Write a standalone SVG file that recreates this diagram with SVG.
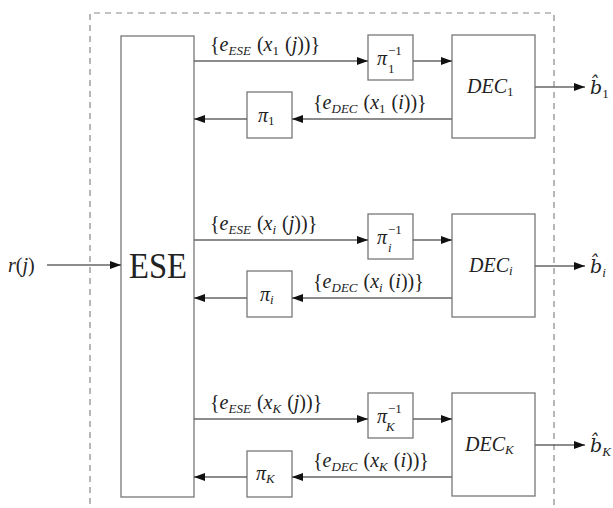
<svg xmlns="http://www.w3.org/2000/svg" width="613" height="508" viewBox="0 0 613 508">
<style>
.bx{fill:#fff;stroke:#777;stroke-width:1.3}
.ar{fill:none;stroke:#666;stroke-width:1.3;marker-end:url(#ah)}
.dash{fill:none;stroke:#888;stroke-width:1.2;stroke-dasharray:6 5}
text{font-family:"Liberation Serif","DejaVu Serif",serif;fill:#222}
.m{font-size:20px;font-style:italic}
.u{font-style:normal}
.sub{font-size:13px}
.big{font-size:35px;font-style:normal}
.bh{font-family:"DejaVu Serif",serif;font-size:19px;font-style:italic}
</style>
<defs>
<marker id="ah" markerWidth="11" markerHeight="8" refX="11" refY="4" orient="auto" markerUnits="userSpaceOnUse"><path d="M0,0 L11,4 L0,8 z" fill="#111"/></marker>
</defs>
<path class="dash" d="M90,515 V13 H554 V515"/>
<g id="ese"><rect class="bx" x="121" y="36" width="73" height="461"/><text class="big" x="158" y="278" text-anchor="middle" textLength="58" lengthAdjust="spacingAndGlyphs">ESE</text></g>
<g id="input"><text class="m" x="8" y="272">r<tspan class="u">(</tspan>j<tspan class="u">)</tspan></text></g>

<g id="pinv1"><rect class="bx" x="368" y="35" width="45" height="45"/><text class="m" x="377" y="65" font-size="19">π</text><text class="sub" x="388" y="55">−1</text><text class="sub" x="388" y="73">1</text></g>
<g id="dec1"><rect class="bx" x="452" y="35" width="83" height="103"/><text class="m" x="467" y="93" font-size="18">DEC<tspan class="sub u" dy="3">1</tspan></text></g>
<g id="pi1"><rect class="bx" x="247" y="92" width="45" height="46"/><text class="m" x="258" y="122" font-size="19">π<tspan class="sub u" dy="3">1</tspan></text></g>
<g id="b1"><text class="bh" x="590" y="94">b&#x302;<tspan class="sub" font-family="Liberation Serif" font-style="normal" dy="4">1</tspan></text></g>

<g id="pinvi"><rect class="bx" x="368" y="214" width="45" height="45"/><text class="m" x="377" y="244" font-size="19">π</text><text class="sub" x="388" y="234">−1</text><text class="m sub" x="388" y="252">i</text></g>
<g id="deci"><rect class="bx" x="452" y="214" width="83" height="103"/><text class="m" x="469" y="272" font-size="18">DEC<tspan class="sub" dy="3">i</tspan></text></g>
<g id="pii"><rect class="bx" x="247" y="271" width="45" height="46"/><text class="m" x="260" y="301" font-size="19">π<tspan class="sub" dy="3">i</tspan></text></g>
<g id="bi"><text class="bh" x="590" y="273">b&#x302;<tspan class="sub" font-family="Liberation Serif" dy="4">i</tspan></text></g>

<g id="pinvK"><rect class="bx" x="368" y="393" width="45" height="45"/><text class="m" x="377" y="423" font-size="19">π</text><text class="sub" x="388" y="413">−1</text><text class="m sub" x="386" y="431">K</text></g>
<g id="decK"><rect class="bx" x="452" y="393" width="83" height="103"/><text class="m" x="465" y="451" font-size="18">DEC<tspan class="sub" dy="3">K</tspan></text></g>
<g id="piK"><rect class="bx" x="247" y="451" width="45" height="46"/><text class="m" x="256" y="480" font-size="19">π<tspan class="sub" dy="3">K</tspan></text></g>
<g id="bK"><text class="bh" x="590" y="452">b&#x302;<tspan class="sub" font-family="Liberation Serif" dy="4">K</tspan></text></g>

<g id="labels">
<text class="m" x="210" y="51"><tspan class="u">{</tspan>e<tspan class="sub" dy="4">ESE</tspan><tspan class="u" dy="-4" dx="6">(</tspan>x<tspan class="sub u" dy="4">1</tspan><tspan class="u" dy="-4" dx="6">(</tspan>j<tspan class="u">))}</tspan></text>
<text class="m" x="313" y="109"><tspan class="u">{</tspan>e<tspan class="sub" dy="4">DEC</tspan><tspan class="u" dy="-4" dx="6">(</tspan>x<tspan class="sub u" dy="4">1</tspan><tspan class="u" dy="-4" dx="6">(</tspan>i<tspan class="u">))}</tspan></text>
<text class="m" x="210" y="230"><tspan class="u">{</tspan>e<tspan class="sub" dy="4">ESE</tspan><tspan class="u" dy="-4" dx="6">(</tspan>x<tspan class="sub" dy="4">i</tspan><tspan class="u" dy="-4" dx="6">(</tspan>j<tspan class="u">))}</tspan></text>
<text class="m" x="313" y="288"><tspan class="u">{</tspan>e<tspan class="sub" dy="4">DEC</tspan><tspan class="u" dy="-4" dx="6">(</tspan>x<tspan class="sub" dy="4">i</tspan><tspan class="u" dy="-4" dx="6">(</tspan>i<tspan class="u">))}</tspan></text>
<text class="m" x="210" y="409"><tspan class="u">{</tspan>e<tspan class="sub" dy="4">ESE</tspan><tspan class="u" dy="-4" dx="6">(</tspan>x<tspan class="sub" dy="4">K</tspan><tspan class="u" dy="-4" dx="6">(</tspan>j<tspan class="u">))}</tspan></text>
<text class="m" x="313" y="467"><tspan class="u">{</tspan>e<tspan class="sub" dy="4">DEC</tspan><tspan class="u" dy="-4" dx="6">(</tspan>x<tspan class="sub" dy="4">K</tspan><tspan class="u" dy="-4" dx="6">(</tspan>i<tspan class="u">))}</tspan></text>
</g>

<g id="connectors">
<path class="ar" d="M47,265 H121"/>
<path class="ar" d="M194,61 H368"/><path class="ar" d="M413,61 H452"/><path class="ar" d="M535,87 H585"/><path class="ar" d="M452,119 H292"/><path class="ar" d="M247,119 H194"/>
<path class="ar" d="M194,240 H368"/><path class="ar" d="M413,240 H452"/><path class="ar" d="M535,266 H585"/><path class="ar" d="M452,298 H292"/><path class="ar" d="M247,298 H194"/>
<path class="ar" d="M194,419 H368"/><path class="ar" d="M413,419 H452"/><path class="ar" d="M535,445 H585"/><path class="ar" d="M452,477 H292"/><path class="ar" d="M247,477 H194"/>
</g>
</svg>
